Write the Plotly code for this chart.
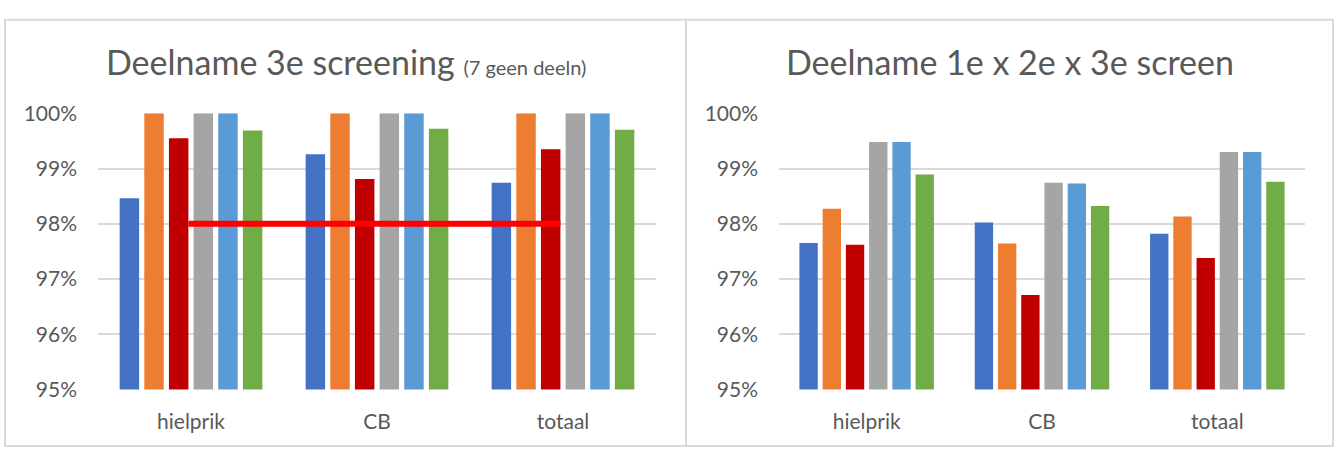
import plotly.graph_objects as go

categories = ["hielprik", "CB", "totaal"]
series_names = ["reeks 1", "reeks 2", "reeks 3", "reeks 4", "reeks 5", "reeks 6"]
colors = ["#4472C4", "#ED7D31", "#C00000", "#A5A5A5", "#5B9BD5", "#70AD47"]

# Deelname 3e screening (percent)
left_s1 = [98.46, 99.26, 98.74]
left_s2 = [100.0, 100.0, 100.0]
left_s3 = [99.55, 98.81, 99.35]
left_s4 = [100.0, 100.0, 100.0]
left_s5 = [100.0, 100.0, 100.0]
left_s6 = [99.69, 99.72, 99.70]

# Deelname 1e x 2e x 3e screen (percent)
right_s1 = [97.65, 98.02, 97.82]
right_s2 = [98.27, 97.64, 98.13]
right_s3 = [97.62, 96.71, 97.38]
right_s4 = [99.48, 98.74, 99.30]
right_s5 = [99.48, 98.73, 99.30]
right_s6 = [98.89, 98.32, 98.76]

target = 98.0
y_ticks = [95, 96, 97, 98, 99, 100]

left_series = [left_s1, left_s2, left_s3, left_s4, left_s5, left_s6]
right_series = [right_s1, right_s2, right_s3, right_s4, right_s5, right_s6]

W, H = 1335, 459
BARGAP = 0.205
BARGROUPGAP = 0.21
TXT = "#595959"
GRID = "#D9D9D9"
FONT = "Lato"

fig = go.Figure()
for i, vals in enumerate(left_series):
    fig.add_trace(go.Bar(x=categories, y=vals, name=series_names[i],
                         marker=dict(color=colors[i], line=dict(width=0)),
                         xaxis="x", yaxis="y", showlegend=False, offsetgroup=str(i)))
for i, vals in enumerate(right_series):
    fig.add_trace(go.Bar(x=categories, y=vals, name=series_names[i],
                         marker=dict(color=colors[i], line=dict(width=0)),
                         xaxis="x2", yaxis="y2", showlegend=False, offsetgroup=str(i)))

ydom = [1 - 397 / H, 1 - 105 / H]
yax = dict(range=[95, 100], tickvals=y_ticks, ticktext=[f"{v}%" for v in y_ticks],
           showgrid=True, gridcolor=GRID, gridwidth=2, zeroline=False, showline=False,
           tickfont=dict(family=FONT, size=21, color=TXT), ticklabelstandoff=20,
           domain=ydom, fixedrange=True)
xax = dict(type="category", showgrid=False, zeroline=False, showline=False,
           tickfont=dict(family=FONT, size=21, color=TXT), ticklabelstandoff=18,
           range=[-0.5, 2.5], fixedrange=True)

fig.update_layout(
    width=W, height=H,
    margin=dict(l=0, r=0, t=0, b=0),
    paper_bgcolor="white", plot_bgcolor="white",
    barmode="group", bargap=BARGAP, bargroupgap=BARGROUPGAP,
    xaxis=dict(**xax, domain=[98 / W, 656 / W], anchor="y"),
    yaxis=dict(**yax, anchor="x"),
    xaxis2=dict(**xax, domain=[779 / W, 1305 / W], anchor="y2"),
    yaxis2=dict(**yax, anchor="x2"),
)

# target line: from right edge of the red bar (series 3) in first group to same in last group
slot = (1 - BARGAP) / len(left_series)
red_idx = 2
red_right = (red_idx + 0.5 - len(left_series) / 2) * slot + 0.5 * slot * (1 - BARGROUPGAP)
fig.add_shape(type="line", xref="x", yref="y",
              x0=categories.index("hielprik") + red_right,
              x1=categories.index("totaal") + red_right,
              y0=target, y1=target, line=dict(color="#FF0000", width=6), layer="above")

# panel borders
for x0, x1 in [(5, 686), (686, 1333)]:
    fig.add_shape(type="rect", xref="paper", yref="paper",
                  x0=x0 / W, x1=x1 / W, y0=1 - 457 / H, y1=1 - 6 / H,
                  line=dict(color=GRID, width=2), fillcolor="rgba(0,0,0,0)", layer="below")

fig.add_annotation(xref="paper", yref="paper", x=345.5 / W, y=1 - 50 / H,
                   xanchor="center", yanchor="middle", showarrow=False,
                   text="Deelname 3e screening <span style='font-size:20px'>(7 geen deeln)</span>",
                   font=dict(family=FONT, size=34, color=TXT))
fig.add_annotation(xref="paper", yref="paper", x=1009.5 / W, y=1 - 50 / H,
                   xanchor="center", yanchor="middle", showarrow=False,
                   text="Deelname 1e x 2e x 3e screen",
                   font=dict(family=FONT, size=34, color=TXT))

fig.write_html("out.html", config={"displayModeBar": False, "staticPlot": True},
               post_script="document.body.style.margin='0';document.body.style.overflow='hidden';")
